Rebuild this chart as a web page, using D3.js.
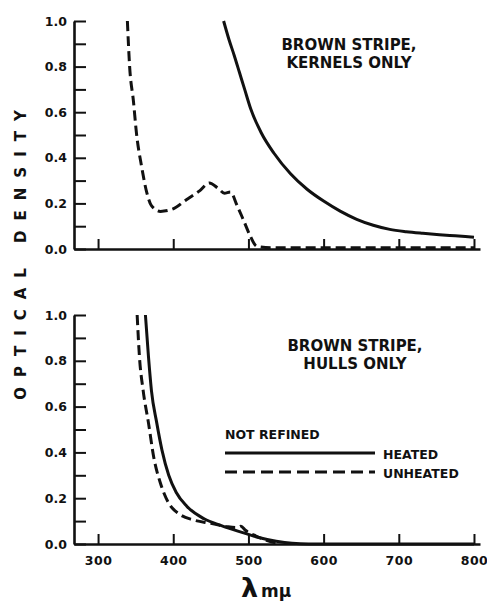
<!DOCTYPE html>
<html>
<head>
<meta charset="utf-8">
<script src="https://cdn.jsdelivr.net/npm/d3@7"></script>
<style>
body { margin: 0; background: #fff; overflow: hidden; }
text { font-family: "DejaVu Sans", sans-serif; font-weight: bold; fill: #111; }
</style>
</head>
<body>
<div id="chart"></div>
<script>
var w = 487;
var h = 606;

// wavelength ticks (m\u03bc) and optical density ticks
var xTicks = [300, 400, 500, 600, 700, 800];
var yTicks = [0, 0.1, 0.2, 0.3, 0.4, 0.5, 0.6, 0.7, 0.8, 0.9, 1.0];
var yLabelTicks = [0, 0.2, 0.4, 0.6, 0.8, 1.0];

// Brown stripe, kernels only
var kernelsHeatedNm = [467, 474, 481, 488, 495, 503, 517, 534, 556, 578, 600, 622, 644, 666, 688, 710, 732, 754, 775, 800];
var kernelsHeatedOD = [1.0, 0.92, 0.85, 0.775, 0.70, 0.615, 0.51, 0.42, 0.33, 0.262, 0.21, 0.166, 0.13, 0.104, 0.086, 0.076, 0.069, 0.063, 0.058, 0.052];
var kernelsUnheatedNm = [339, 342, 347, 351, 358, 365, 371, 383, 399, 417, 435, 448, 460, 468, 476, 485, 493, 502, 511, 530, 600, 700, 800];
var kernelsUnheatedOD = [1.0, 0.80, 0.65, 0.51, 0.36, 0.245, 0.19, 0.165, 0.175, 0.215, 0.255, 0.29, 0.265, 0.245, 0.25, 0.19, 0.13, 0.06, 0.012, 0.006, 0.006, 0.006, 0.006];

// Brown stripe, hulls only
var hullsHeatedNm = [363, 367, 371, 378, 385, 394, 404, 418, 441, 464, 487, 500, 515, 537, 558, 580, 650, 800];
var hullsHeatedOD = [1.0, 0.82, 0.67, 0.53, 0.41, 0.30, 0.225, 0.165, 0.11, 0.08, 0.055, 0.042, 0.027, 0.012, 0.003, 0, 0, 0];
var hullsUnheatedNm = [352, 355, 360, 367, 374, 383, 394, 408, 427, 450, 473, 485, 490, 496, 510, 525, 540];
var hullsUnheatedOD = [1.0, 0.82, 0.67, 0.53, 0.38, 0.265, 0.178, 0.131, 0.105, 0.09, 0.075, 0.072, 0.078, 0.06, 0.035, 0.015, 0.002];

var legendTitle = "NOT REFINED";
var legendLabels = ["HEATED", "UNHEATED"];

function pairs(nm, od) {
    return nm.map(function (d, i) { return { nm: d, od: od[i] }; });
}

var svg = d3.select("#chart")
    .append("svg")
    .attr("width", w)
    .attr("height", h);

var xScale = d3.scaleLinear().domain([268, 808]).range([74, 480]);

function panel(top, bottom, heated, unheated, title, showX) {
    var yScale = d3.scaleLinear().domain([0, 1]).range([bottom, top]);

    var line = d3.line()
        .x(function (d) { return xScale(d.nm); })
        .y(function (d) { return yScale(d.od); })
        .curve(d3.curveMonotoneX);

    // y axis, ticks point inward
    var yAxis = d3.axisLeft(yScale)
        .tickValues(yTicks)
        .tickSizeInner(-12)
        .tickSizeOuter(0)
        .tickPadding(7)
        .tickFormat(function (d) {
            return yLabelTicks.some(function (v) { return Math.abs(v - d) < 1e-6; }) ? d3.format(".1f")(d) : "";
        });
    var gy = svg.append("g").attr("transform", "translate(74,0)").call(yAxis);

    var xAxis = d3.axisBottom(xScale)
        .tickValues(xTicks)
        .tickSizeInner(-10)
        .tickSizeOuter(0)
        .tickPadding(12)
        .tickFormat(showX ? d3.format("d") : function () { return ""; });
    var gx = svg.append("g").attr("transform", "translate(0," + bottom + ")").call(xAxis);

    [gy, gx].forEach(function (g) {
        g.select(".domain").attr("stroke", "#111").attr("stroke-width", 2.6);
        g.selectAll(".tick line").attr("stroke", "#111").attr("stroke-width", 2);
        g.selectAll(".tick text")
            .style("font-family", "'DejaVu Sans', sans-serif")
            .style("font-weight", "bold")
            .style("font-size", "12.5px")
            .attr("fill", "#111");
    });
    gx.selectAll(".tick text").style("letter-spacing", "0.5px");

    svg.append("path")
        .datum(heated)
        .attr("fill", "none")
        .attr("stroke", "#111")
        .attr("stroke-width", 3)
        .attr("d", line);

    svg.append("path")
        .datum(unheated)
        .attr("fill", "none")
        .attr("stroke", "#111")
        .attr("stroke-width", 3)
        .attr("stroke-dasharray", "10,5")
        .attr("d", line);

    svg.append("text")
        .attr("x", title.x)
        .attr("y", title.y)
        .attr("text-anchor", "middle")
        .style("font-size", "15px")
        .selectAll("tspan")
        .data(title.lines)
        .enter()
        .append("tspan")
        .attr("x", title.x)
        .attr("dy", function (d, i) { return i === 0 ? 0 : 18; })
        .text(function (d) { return d; });

    return yScale;
}

panel(21, 249,
    pairs(kernelsHeatedNm, kernelsHeatedOD),
    pairs(kernelsUnheatedNm, kernelsUnheatedOD),
    { x: 349, y: 50, lines: ["BROWN STRIPE,", "KERNELS ONLY"] },
    false);

panel(315, 544,
    pairs(hullsHeatedNm, hullsHeatedOD),
    pairs(hullsUnheatedNm, hullsUnheatedOD),
    { x: 355, y: 351, lines: ["BROWN STRIPE,", "HULLS ONLY"] },
    true);

// legend
svg.append("text")
    .attr("x", 225)
    .attr("y", 439)
    .style("font-size", "12.5px")
    .text(legendTitle);

var legend = svg.selectAll(".legend")
    .data(legendLabels)
    .enter()
    .append("g")
    .attr("class", "legend")
    .attr("transform", function (d, i) { return "translate(225," + (453 + i * 19) + ")"; });

legend.append("line")
    .attr("x1", 0)
    .attr("x2", 150)
    .attr("stroke", "#111")
    .attr("stroke-width", 3)
    .attr("stroke-dasharray", function (d, i) { return i === 0 ? null : "12,6"; });

legend.append("text")
    .attr("x", 158)
    .attr("y", 6)
    .style("font-size", "12.5px")
    .text(function (d) { return d; });

// axis titles
svg.append("text")
    .attr("transform", "translate(26,250) rotate(-90)")
    .attr("text-anchor", "middle")
    .style("font-size", "15px")
    .style("letter-spacing", "10px")
    .text("OPTICAL DENSITY");

var xl = svg.append("text")
    .attr("x", 241)
    .attr("y", 597);
xl.append("tspan").style("font-size", "27px").text("\u03bb");
xl.append("tspan").attr("dx", 3).style("font-size", "17px").text("m\u03bc");
</script>
</body>
</html>
